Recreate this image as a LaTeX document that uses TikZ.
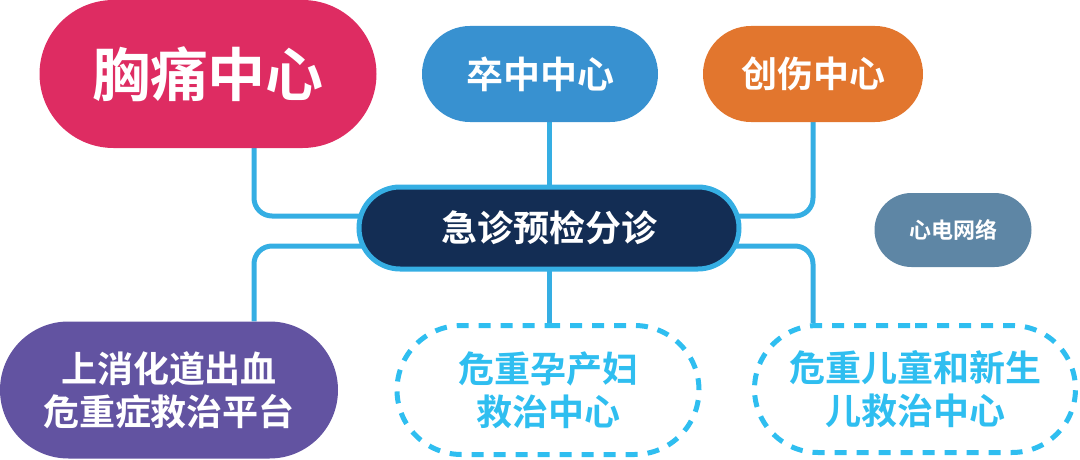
\documentclass[tikz,border=0pt]{standalone}
\usepackage{fontspec}
\setmainfont{Noto Sans CJK SC}[BoldFont={* Bold}]
\usetikzlibrary{shapes.misc,backgrounds}
\definecolor{chestred}{HTML}{DE2C62}
\definecolor{strokeblue}{HTML}{3891D0}
\definecolor{traumaorange}{HTML}{E2762E}
\definecolor{triagenavy}{HTML}{132D54}
\definecolor{linkblue}{HTML}{35AEE3}
\definecolor{ecggrey}{HTML}{5E86A5}
\definecolor{gipurple}{HTML}{6253A1}
\definecolor{dashblue}{HTML}{2FBEF0}

\begin{document}
\begin{tikzpicture}[x=1pt,y=-1pt,
   pill/.style={rounded rectangle,inner sep=0pt,align=center,text=white,
     font=\bfseries\fontsize{36}{43}\selectfont},
   dashpill/.style={pill,draw=dashblue,line width=5pt,
     dash pattern=on 12pt off 10pt,text=dashblue},
   link/.style={draw=linkblue,line width=5pt,rounded corners=18pt}]
\useasboundingbox (0,0) rectangle (1080,460);
\node[pill,fill=chestred,minimum width=337pt,minimum height=148pt,
   font=\bfseries\fontsize{58}{60}\selectfont] (chest) at (208,74) {胸痛中心};
\node[pill,fill=strokeblue,minimum width=236pt,minimum height=96pt,
   font=\bfseries\fontsize{37}{43}\selectfont] (stroke) at (540,74) {卒中中心};
\node[pill,fill=traumaorange,minimum width=220pt,minimum height=96pt] (trauma) at (813,74) {创伤中心};
\node[pill,fill=triagenavy,draw=linkblue,line width=5pt,minimum width=380pt,
   minimum height=82pt] (triage) at (549,228) {急诊预检分诊};
\node[pill,fill=ecggrey,minimum width=157pt,minimum height=74pt,
   font=\bfseries\fontsize{22}{26}\selectfont] (ecg) at (953,230) {心电网络};
\node[pill,fill=gipurple,minimum width=338pt,minimum height=137pt] (gi) at (169,390)
   {上消化道出血\\危重症救治平台};
\node[dashpill,minimum width=302pt,minimum height=129pt] (maternal) at (548,390)
   {危重孕产妇\\救治中心};
\node[dashpill,minimum width=321pt,minimum height=127pt] (child) at (915,389)
   {危重儿童和新生\\儿救治中心};
\begin{scope}[on background layer]
\draw[link] ([xshift=46pt]chest.south) |- ([yshift=12pt]triage.center);
\draw[link] (stroke.south -| triage.center) -- (triage.center);
\draw[link] (trauma.south) |- ([yshift=12pt]triage.center);
\draw[link] ([xshift=85pt]gi.north) |- ([yshift=-18pt]triage.center);
\draw[link] (triage.center) -- (maternal.north -| triage.center);
\draw[link] (child.north -| trauma.south) |- ([yshift=-18pt]triage.center);
\end{scope}
\end{tikzpicture}
\end{document}
